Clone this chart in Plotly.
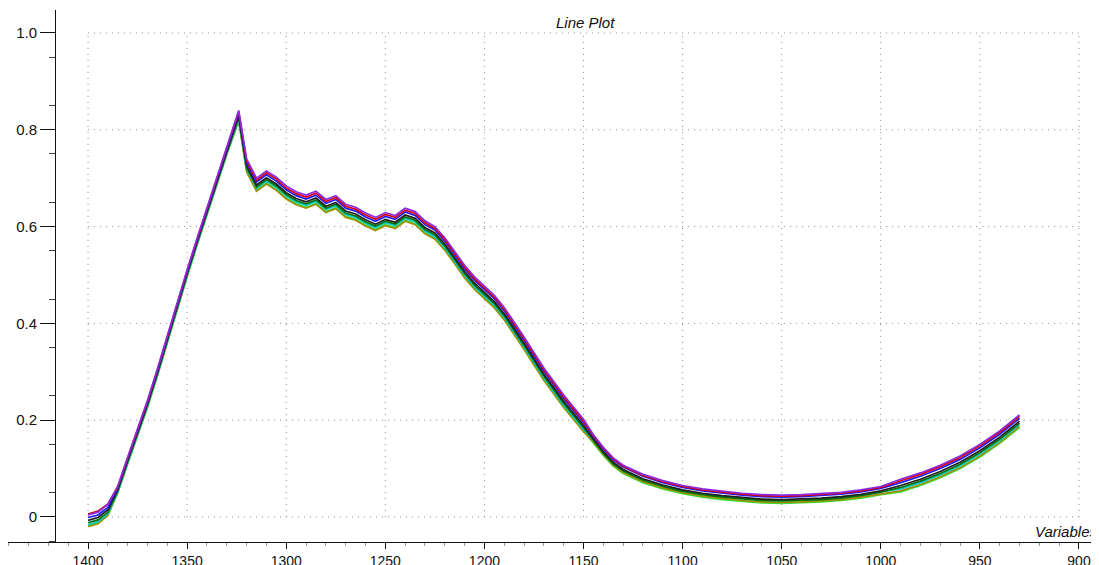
import plotly.graph_objects as go

# Wavelength variables (x)
variables = [1400, 1395, 1390, 1385, 1380, 1375, 1370, 1365, 1360, 1355, 1350, 1345, 1340, 1335, 1330,
             1324, 1320, 1315, 1310, 1305, 1300, 1295, 1290, 1285, 1280, 1275, 1270, 1265, 1260, 1255,
             1250, 1245, 1240, 1235, 1230, 1225, 1220, 1215, 1210, 1205, 1200, 1195, 1190, 1180, 1170,
             1160, 1150, 1145, 1140, 1135, 1130, 1120, 1110, 1100, 1090, 1080, 1070, 1060, 1050, 1040,
             1030, 1020, 1010, 1000, 990, 980, 970, 960, 950, 940, 930]

spec_ltgreen = [-0.018, -0.012, 0.004,
                0.050, 0.110, 0.170, 0.227, 0.292, 0.362, 0.432, 0.497, 0.562, 0.625, 0.687, 0.749,
                0.818,
                0.715, 0.675, 0.690, 0.677, 0.659, 0.647, 0.640, 0.648, 0.631, 0.639, 0.621, 0.615, 0.603, 0.594, 0.604, 0.598, 0.613, 0.606, 0.587,
                0.576, 0.553, 0.525, 0.496, 0.472, 0.454, 0.434, 0.409, 0.348, 0.284, 0.228, 0.178,
                0.153, 0.127, 0.105, 0.090, 0.071, 0.058, 0.048, 0.041, 0.036, 0.032, 0.029, 0.028, 0.029, 0.031, 0.034, 0.039, 0.046,
                0.052, 0.065, 0.081, 0.100, 0.124, 0.152, 0.185]
spec_olive = [-0.020, -0.014, 0.003,
              0.051, 0.111, 0.171, 0.228, 0.293, 0.363, 0.433, 0.498, 0.563, 0.626, 0.688, 0.750,
              0.820,
              0.713, 0.673, 0.688, 0.675, 0.657, 0.645, 0.638, 0.646, 0.629, 0.637, 0.619, 0.613, 0.601, 0.592, 0.602, 0.596, 0.611, 0.604, 0.585,
              0.574, 0.551, 0.523, 0.494, 0.470, 0.452, 0.432, 0.407, 0.346, 0.282, 0.226, 0.176,
              0.155, 0.129, 0.107, 0.092, 0.073, 0.060, 0.050, 0.043, 0.038, 0.034, 0.031, 0.030, 0.031, 0.033, 0.036, 0.041, 0.048,
              0.054, 0.067, 0.083, 0.102, 0.126, 0.154, 0.187]
spec_cyan = [-0.016, -0.010, 0.006,
             0.052, 0.112, 0.172, 0.229, 0.294, 0.364, 0.434, 0.499, 0.564, 0.627, 0.689, 0.751,
             0.822,
             0.719, 0.679, 0.694, 0.681, 0.663, 0.651, 0.644, 0.652, 0.635, 0.643, 0.625, 0.619, 0.607, 0.598, 0.608, 0.602, 0.617, 0.610, 0.591,
             0.579, 0.556, 0.528, 0.499, 0.475, 0.457, 0.437, 0.412, 0.351, 0.287, 0.231, 0.181,
             0.159, 0.133, 0.111, 0.096, 0.077, 0.064, 0.054, 0.047, 0.042, 0.038, 0.035, 0.034, 0.035, 0.037, 0.040, 0.045, 0.052,
             0.058, 0.071, 0.087, 0.106, 0.130, 0.158, 0.191]
spec_dkgreen = [-0.012, -0.006, 0.010,
                0.055, 0.115, 0.175, 0.232, 0.297, 0.367, 0.437, 0.502, 0.567, 0.630, 0.692, 0.754,
                0.826,
                0.722, 0.682, 0.697, 0.684, 0.666, 0.654, 0.647, 0.655, 0.638, 0.646, 0.628, 0.622, 0.610, 0.601, 0.611, 0.605, 0.620, 0.613, 0.594,
                0.583, 0.560, 0.532, 0.503, 0.479, 0.461, 0.441, 0.416, 0.355, 0.291, 0.235, 0.185,
                0.158, 0.132, 0.110, 0.095, 0.076, 0.063, 0.053, 0.046, 0.041, 0.037, 0.034, 0.033, 0.034, 0.036, 0.039, 0.044, 0.051,
                0.061, 0.074, 0.090, 0.109, 0.133, 0.161, 0.194]
spec_black = [-0.007, -0.001, 0.015,
              0.057, 0.117, 0.177, 0.234, 0.299, 0.369, 0.439, 0.504, 0.569, 0.632, 0.694, 0.756,
              0.829,
              0.726, 0.686, 0.701, 0.688, 0.670, 0.658, 0.651, 0.659, 0.642, 0.650, 0.632, 0.626, 0.614, 0.605, 0.615, 0.609, 0.624, 0.617, 0.598,
              0.587, 0.564, 0.536, 0.507, 0.483, 0.465, 0.445, 0.420, 0.359, 0.295, 0.239, 0.189,
              0.161, 0.135, 0.113, 0.098, 0.079, 0.066, 0.056, 0.049, 0.044, 0.040, 0.037, 0.036, 0.037, 0.039, 0.042, 0.047, 0.054,
              0.065, 0.078, 0.094, 0.113, 0.137, 0.165, 0.198]
spec_blue = [-0.001, 0.004, 0.020,
             0.060, 0.120, 0.180, 0.237, 0.302, 0.372, 0.442, 0.507, 0.572, 0.635, 0.697, 0.759,
             0.834,
             0.732, 0.692, 0.707, 0.694, 0.676, 0.664, 0.657, 0.665, 0.648, 0.656, 0.638, 0.632, 0.620, 0.611, 0.621, 0.615, 0.630, 0.623, 0.604,
             0.593, 0.570, 0.542, 0.513, 0.489, 0.471, 0.451, 0.426, 0.365, 0.301, 0.245, 0.195,
             0.166, 0.140, 0.118, 0.103, 0.084, 0.071, 0.061, 0.054, 0.049, 0.045, 0.042, 0.041, 0.042, 0.044, 0.047, 0.052, 0.059,
             0.071, 0.084, 0.100, 0.119, 0.143, 0.171, 0.204]
spec_red = [0.006, 0.012, 0.027,
            0.062, 0.122, 0.182, 0.239, 0.304, 0.374, 0.444, 0.509, 0.574, 0.637, 0.699, 0.761,
            0.838,
            0.736, 0.696, 0.711, 0.698, 0.680, 0.668, 0.661, 0.669, 0.652, 0.660, 0.642, 0.636, 0.624, 0.615, 0.625, 0.619, 0.634, 0.627, 0.608,
            0.596, 0.573, 0.545, 0.516, 0.492, 0.474, 0.454, 0.429, 0.368, 0.304, 0.248, 0.198,
            0.168, 0.142, 0.120, 0.105, 0.086, 0.073, 0.063, 0.056, 0.051, 0.047, 0.044, 0.043, 0.044, 0.046, 0.049, 0.054, 0.061,
            0.075, 0.088, 0.104, 0.123, 0.147, 0.175, 0.208]
spec_purple = [0.004, 0.010, 0.026,
               0.064, 0.124, 0.184, 0.241, 0.306, 0.376, 0.446, 0.511, 0.576, 0.639, 0.701, 0.763,
               0.840,
               0.740, 0.700, 0.715, 0.702, 0.684, 0.672, 0.665, 0.673, 0.656, 0.664, 0.646, 0.640, 0.628, 0.619, 0.629, 0.623, 0.638, 0.631, 0.612,
               0.600, 0.577, 0.549, 0.520, 0.496, 0.478, 0.458, 0.433, 0.372, 0.308, 0.252, 0.202,
               0.170, 0.144, 0.122, 0.107, 0.088, 0.075, 0.065, 0.058, 0.053, 0.049, 0.046, 0.045, 0.046, 0.048, 0.051, 0.056, 0.063,
               0.078, 0.091, 0.107, 0.126, 0.150, 0.178, 0.211]

series = [
    ("S1", spec_ltgreen, "#33dd33"),
    ("S2", spec_olive, "#a09000"),
    ("S3", spec_cyan, "#00c8c8"),
    ("S4", spec_dkgreen, "#007000"),
    ("S5", spec_black, "#202020"),
    ("S6", spec_blue, "#1a1aff"),
    ("S7", spec_red, "#dd0000"),
    ("S8", spec_purple, "#8a2be2"),
]

x_ticks = [1400, 1350, 1300, 1250, 1200, 1150, 1100, 1050, 1000, 950, 900]
y_ticks = [0, 0.2, 0.4, 0.6, 0.8, 1.0]
y_ticktext = ["0", "0.2", "0.4", "0.6", "0.8", "1.0"]

FONT = "Liberation Sans, Arial, sans-serif"

fig = go.Figure()
for name, vals, color in series:
    fig.add_trace(go.Scatter(x=variables, y=vals, mode="lines", name=name,
                             line=dict(color=color, width=1.7)))

# bounded dotted grid
shapes = []
for xv in x_ticks:
    shapes.append(dict(type="line", xref="x", yref="y", x0=xv, x1=xv, y0=y_ticks[0], y1=y_ticks[-1],
                       line=dict(color="#8a8a8a", width=1, dash="1px,5px"), layer="below"))
for yv in y_ticks:
    shapes.append(dict(type="line", xref="x", yref="y", x0=x_ticks[0], x1=x_ticks[-1], y0=yv, y1=yv,
                       line=dict(color="#8a8a8a", width=1, dash="1px,5px"), layer="below"))

# the page body has an 8px offset, so the margins are shifted to compensate
fig.update_layout(
    width=1099, height=565,
    margin=dict(l=0, r=8, t=2, b=31, autoexpand=False),
    paper_bgcolor="white", plot_bgcolor="white",
    showlegend=False,
    shapes=shapes,
    font=dict(family=FONT, color="#111111"),
    xaxis=dict(range=[1440.4, 889.9], tickvals=x_ticks, ticks="outside", ticklen=6, tickcolor="#111111",
               showline=True, linecolor="#111111", linewidth=1, showgrid=False, zeroline=False,
               automargin=False,
               tickfont=dict(size=14, family=FONT, color="#111111"),
               minor=dict(dtick=10, tick0=0, ticks="outside", ticklen=3, tickcolor="#9a9a9a", showgrid=False)),
    yaxis=dict(range=[-0.0517, 1.0475], tickvals=y_ticks, ticktext=y_ticktext, ticks="outside", ticklen=15,
               tickcolor="#111111", anchor="free", position=47 / 1091, automargin=False,
               showline=True, linecolor="#111111", linewidth=1, showgrid=False, zeroline=False,
               tickfont=dict(size=15, family=FONT, color="#111111"),
               minor=dict(dtick=0.1, tick0=0.05, ticks="outside", ticklen=6, tickcolor="#444444", showgrid=False)),
    annotations=[
        dict(text="<i>Line Plot</i>", xref="paper", yref="paper", x=(585 - 8) / 1091, y=(542 - 22) / 532,
             xanchor="center", yanchor="middle", showarrow=False, font=dict(size=15, family=FONT, color="#111111")),
        dict(text="<i>Variables</i>", xref="paper", yref="paper", x=1.0, y=(542 - 531) / 532,
             xanchor="right", yanchor="middle", showarrow=False, font=dict(size=15, family=FONT, color="#111111")),
    ],
)

fig.write_html("out.html")
